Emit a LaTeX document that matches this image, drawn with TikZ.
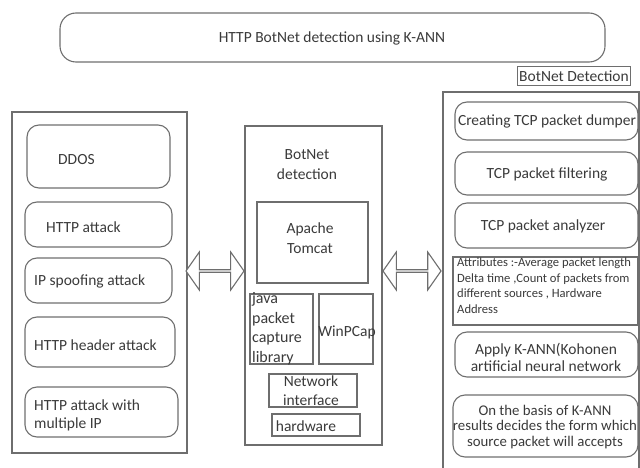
\documentclass[tikz,border=0pt]{standalone}
\usepackage{fontspec}
\setmainfont{Carlito}
\usetikzlibrary{shapes.arrows}
\definecolor{ink}{HTML}{3A3A3A}
\definecolor{edge}{HTML}{6E6E6E}
\begin{document}
\begin{tikzpicture}[x=1pt,y=-1pt,
  every node/.style={text=ink,inner sep=0pt,font=\fontsize{15.5}{18}\selectfont},
  frame/.style={draw=edge,line width=1.1pt},
  rbox/.style={draw=edge,line width=1.1pt,rounded corners=12pt},
  sbox/.style={draw=edge,line width=1.1pt},
  dblarrow/.style={double arrow,draw=edge,line width=1.1pt,fill=white,
    minimum height=58pt,minimum width=38pt,inner sep=0pt,
    double arrow head extend=8pt,double arrow tip angle=110}]
\useasboundingbox (0,0) rectangle (640,468);

% title
\draw[rbox,rounded corners=16pt] (60,13) rectangle (605,62);
\node (title) at (332,38) {HTTP BotNet detection using K-ANN};

% left column: attack types
\draw[frame] (12,112) rectangle (187,453);
\draw[rbox] (27,125) rectangle (170,188);
\node[anchor=west] (ddos) at (58,160) {DDOS};
\draw[rbox] (25,202) rectangle (172,247);
\node[anchor=west] (http) at (46,227) {HTTP attack};
\draw[rbox] (25,258) rectangle (172,303);
\node[anchor=west] (ipsp) at (34,281) {IP spoofing attack};
\draw[rbox] (25,317) rectangle (175,367);
\node[anchor=west] (hdr) at (34,345) {HTTP header attack};
\draw[rbox] (25,387) rectangle (178,437);
\node[anchor=west,align=left] (multi) at (34,415) {HTTP attack with\\multiple IP};

% middle column: detection stack
\draw[frame] (245,126) rectangle (382,445);
\node[align=center,font=\fontsize{15.5}{20}\selectfont] (mid) at (307,165) {BotNet\\detection};
\draw[sbox] (257,202) rectangle (368,283);
\node[align=center,font=\fontsize{15.5}{20}\selectfont] (tomcat) at (310,238) {Apache\\Tomcat};
\draw[sbox] (250,294) rectangle (313,364);
\node[align=left,font=\fontsize{16}{19.5}\selectfont] (jpcap) at (277,329) {java\\packet\\capture\\library};
\draw[sbox] (319,294) rectangle (373,364);
\node (winpcap) at (347,332) {WinPCap};
\draw[sbox] (269,374) rectangle (357,407);
\node[align=center,font=\fontsize{15.5}{19}\selectfont] (nic) at (311,391) {Network\\interface};
\draw[sbox] (272,414) rectangle (360,436);
\node (hw) at (306,426) {hardware};

% right column: detection pipeline
\node[sbox,inner sep=2pt,minimum width=112pt,minimum height=19pt] (bdlabel) at (574,76) {BotNet Detection};
\draw[frame] (443,92) rectangle (639,470);
\draw[rbox] (455,102) rectangle (638,140);
\node (dump) at (547,121) {Creating TCP packet dumper};
\draw[rbox] (455,152) rectangle (638,195);
\node (filt) at (547,174) {TCP packet filtering};
\draw[rbox] (455,203) rectangle (638,248);
\node (anal) at (543,226) {TCP packet analyzer};
\draw[sbox] (453,257) rectangle (638,325);
\node[anchor=north west,align=left,font=\fontsize{12.6}{15.5}\selectfont]
  (attr) at (457,258) {Attributes :-Average packet length\\Delta time ,Count of packets from\\different sources , Hardware\\Address};
\draw[rbox] (455,332) rectangle (638,377);
\node[align=center,font=\fontsize{15.5}{17}\selectfont] (kann) at (546,357) {Apply K-ANN(Kohonen\\artificial neural network};
\draw[rbox] (453,395) rectangle (638,457);
\node[align=center,font=\fontsize{14.8}{15.5}\selectfont] (decide) at (545,427) {On the basis of K-ANN\\results decides the form which\\source packet will accepts};

% two-way links between the columns
\node[dblarrow] (la) at (215,271) {};
\node[dblarrow] (ra) at (412,271) {};
\end{tikzpicture}
\end{document}
